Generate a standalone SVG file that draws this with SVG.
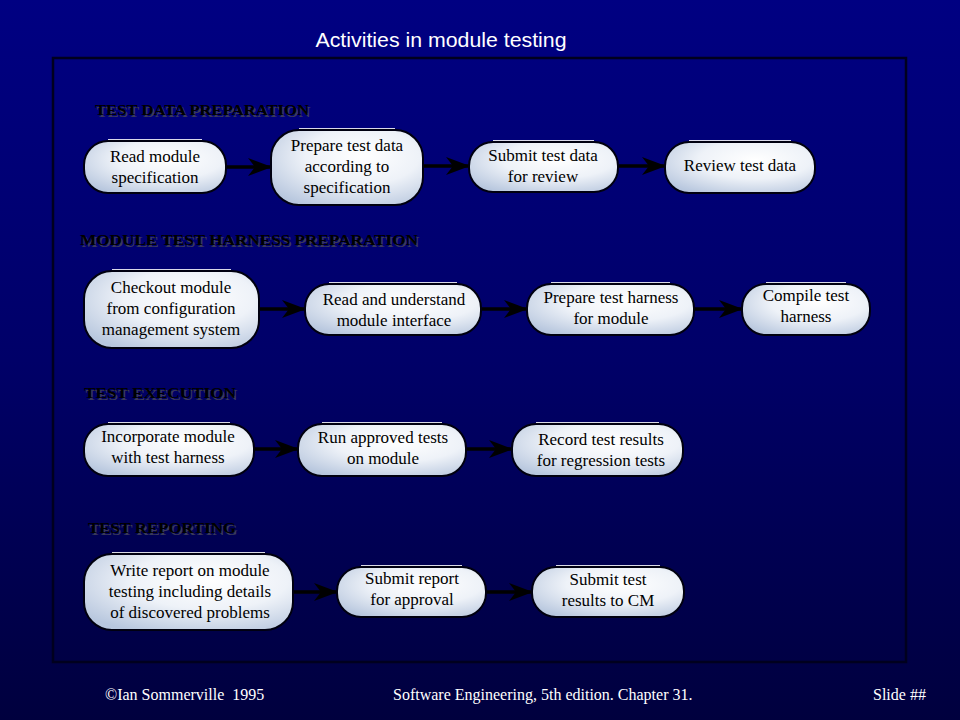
<svg xmlns="http://www.w3.org/2000/svg" width="960" height="720" viewBox="0 0 960 720">
<defs>
<linearGradient id="bg" x1="0" y1="0" x2="0" y2="1">
<stop offset="0" stop-color="#000082"/>
<stop offset="0.5" stop-color="#000068"/>
<stop offset="1" stop-color="#00003e"/>
</linearGradient>
<radialGradient id="nf" cx="0.6" cy="0.35" r="0.75">
<stop offset="0" stop-color="#ffffff"/>
<stop offset="0.5" stop-color="#eef2f8"/>
<stop offset="1" stop-color="#b8c7de"/>
</radialGradient>
<marker id="ah" markerUnits="userSpaceOnUse" markerWidth="24" markerHeight="18" refX="23" refY="9" orient="auto">
<path d="M0,0 L24,9 L0,18 L7,9 Z" fill="#000000"/>
</marker>
<style>
.bgr{fill:url(#bg)}
.frame{fill:none;stroke:#00001e;stroke-width:2.5}
.title{font-family:"Liberation Sans",Arial,sans-serif;font-size:20px;fill:#ffffff}
.foot{font-family:"Liberation Serif","Times New Roman",serif;font-size:16px;fill:#ffffff}
.sec{font-family:"Liberation Serif","Times New Roman",serif;font-size:15px;font-weight:bold;fill:#000000}
.secs{font-family:"Liberation Serif","Times New Roman",serif;font-size:15px;font-weight:bold;fill:#3a3a5a}
.node rect{fill:url(#nf);stroke:#000010;stroke-width:2}
.node line{stroke:#ffffff;stroke-width:1;opacity:0.85}
.node text{font-family:"Liberation Serif","Times New Roman",serif;font-size:17px;fill:#000000;text-anchor:middle}
.conn line{stroke:#000000;stroke-width:3.5;marker-end:url(#ah)}
</style>
</defs>
<rect class="bgr" x="0" y="0" width="960" height="720"/>
<rect class="frame" x="53" y="58" width="853" height="604"/>
<text class="title" x="441" y="47" text-anchor="middle" textLength="251" lengthAdjust="spacingAndGlyphs">Activities in module testing</text>

<g id="sections">
<text class="secs" x="96.5" y="116.5" textLength="214" lengthAdjust="spacingAndGlyphs">TEST DATA PREPARATION</text>
<text class="sec" x="95" y="115" textLength="214" lengthAdjust="spacingAndGlyphs">TEST DATA PREPARATION</text>
<text class="secs" x="81.5" y="246.5" textLength="338" lengthAdjust="spacingAndGlyphs">MODULE TEST HARNESS PREPARATION</text>
<text class="sec" x="80" y="245" textLength="338" lengthAdjust="spacingAndGlyphs">MODULE TEST HARNESS PREPARATION</text>
<text class="secs" x="85.5" y="399.5" textLength="152" lengthAdjust="spacingAndGlyphs">TEST EXECUTION</text>
<text class="sec" x="84" y="398" textLength="152" lengthAdjust="spacingAndGlyphs">TEST EXECUTION</text>
<text class="secs" x="89.5" y="534.5" textLength="148" lengthAdjust="spacingAndGlyphs">TEST REPORTING</text>
<text class="sec" x="88" y="533" textLength="148" lengthAdjust="spacingAndGlyphs">TEST REPORTING</text>
</g>

<g class="conn" id="connectors">
<line x1="227" y1="167" x2="271" y2="167"/>
<line x1="424" y1="166" x2="469" y2="166"/>
<line x1="619" y1="166" x2="665" y2="166"/>
<line x1="260" y1="309" x2="305" y2="309"/>
<line x1="482" y1="309" x2="527" y2="309"/>
<line x1="695" y1="309" x2="742" y2="309"/>
<line x1="255" y1="449" x2="298" y2="449"/>
<line x1="467" y1="449" x2="512" y2="449"/>
<line x1="294" y1="592" x2="337" y2="592"/>
<line x1="487" y1="592" x2="532" y2="592"/>
</g>

<g class="node" id="n1">
<rect x="84" y="141" width="142" height="52" rx="24"/>
<line x1="108" y1="139.5" x2="202" y2="139.5"/>
<text x="155" y="162">Read module</text>
<text x="155" y="183">specification</text>
</g>
<g class="node" id="n2">
<rect x="271" y="130" width="152" height="75" rx="28"/>
<line x1="299" y1="128.5" x2="395" y2="128.5"/>
<text x="347" y="151">Prepare test data</text>
<text x="347" y="172">according to</text>
<text x="347" y="193">specification</text>
</g>
<g class="node" id="n3">
<rect x="469" y="142" width="149" height="50" rx="24"/>
<line x1="493" y1="140.5" x2="594" y2="140.5"/>
<text x="543" y="161">Submit test data</text>
<text x="543" y="182">for review</text>
</g>
<g class="node" id="n4">
<rect x="665" y="142" width="150" height="51" rx="24"/>
<line x1="689" y1="140.5" x2="791" y2="140.5"/>
<text x="740" y="171">Review test data</text>
</g>

<g class="node" id="n5">
<rect x="84" y="271" width="175" height="77" rx="28"/>
<line x1="112" y1="269.5" x2="231" y2="269.5"/>
<text x="171" y="293">Checkout module</text>
<text x="171" y="314">from configuration</text>
<text x="171" y="335">management system</text>
</g>
<g class="node" id="n6">
<rect x="305" y="284" width="176" height="51" rx="24"/>
<line x1="329" y1="282.5" x2="457" y2="282.5"/>
<text x="394" y="305">Read and understand</text>
<text x="394" y="326">module interface</text>
</g>
<g class="node" id="n7">
<rect x="527" y="284" width="167" height="51" rx="24"/>
<line x1="551" y1="282.5" x2="670" y2="282.5"/>
<text x="611" y="303">Prepare test harness</text>
<text x="611" y="324">for module</text>
</g>
<g class="node" id="n8">
<rect x="742" y="284" width="128" height="51" rx="24"/>
<line x1="766" y1="282.5" x2="846" y2="282.5"/>
<text x="806" y="301">Compile test</text>
<text x="806" y="322">harness</text>
</g>

<g class="node" id="n9">
<rect x="84" y="424" width="170" height="52" rx="24"/>
<line x1="108" y1="422.5" x2="230" y2="422.5"/>
<text x="168" y="442">Incorporate module</text>
<text x="168" y="463">with test harness</text>
</g>
<g class="node" id="n10">
<rect x="298" y="424" width="168" height="52" rx="24"/>
<line x1="322" y1="422.5" x2="442" y2="422.5"/>
<text x="383" y="443">Run approved tests</text>
<text x="383" y="464">on module</text>
</g>
<g class="node" id="n11">
<rect x="512" y="424" width="171" height="52" rx="24"/>
<line x1="536" y1="422.5" x2="659" y2="422.5"/>
<text x="601" y="445">Record test results</text>
<text x="601" y="466">for regression tests</text>
</g>

<g class="node" id="n12">
<rect x="84" y="554" width="209" height="76" rx="28"/>
<line x1="112" y1="552.5" x2="265" y2="552.5"/>
<text x="190" y="576">Write report on module</text>
<text x="190" y="597">testing including details</text>
<text x="190" y="618">of discovered problems</text>
</g>
<g class="node" id="n13">
<rect x="337" y="567" width="149" height="50" rx="24"/>
<line x1="361" y1="565.5" x2="462" y2="565.5"/>
<text x="412" y="584">Submit report</text>
<text x="412" y="605">for approval</text>
</g>
<g class="node" id="n14">
<rect x="532" y="567" width="152" height="50" rx="24"/>
<line x1="556" y1="565.5" x2="660" y2="565.5"/>
<text x="608" y="585">Submit test</text>
<text x="608" y="606">results to CM</text>
</g>

<text class="foot" x="105" y="700" xml:space="preserve">©Ian Sommerville  1995</text>
<text class="foot" x="393" y="700">Software Engineering, 5th edition. Chapter 31.</text>
<text class="foot" x="873" y="700">Slide ##</text>
</svg>
